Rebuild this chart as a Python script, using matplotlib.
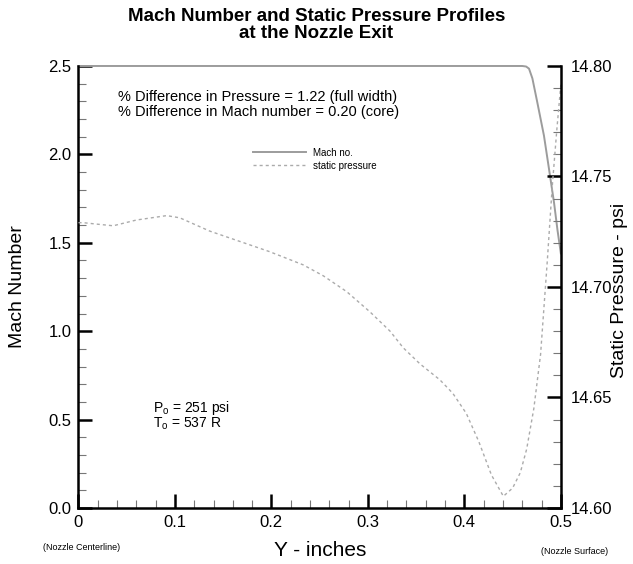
import matplotlib
matplotlib.use("Agg")
import matplotlib.pyplot as plt
from matplotlib.ticker import MultipleLocator, FuncFormatter

plt.rcParams['font.family'] = ['Liberation Sans', 'DejaVu Sans']

# Mach number profile (solid)
mach_y = [0.0, 0.10, 0.20, 0.30, 0.40, 0.460, 0.464, 0.467, 0.4705, 0.4755, 0.4825, 0.4878, 0.493, 0.4965, 0.5]
mach = [2.5, 2.5, 2.5, 2.5, 2.5, 2.5, 2.497, 2.485, 2.43, 2.297, 2.106, 1.915, 1.725, 1.573, 1.44]

# static pressure profile (dashed)
pres_y = [0.0, 0.005, 0.020, 0.036, 0.060, 0.0914, 0.105, 0.136, 0.164, 0.198, 0.233, 0.254,
          0.278, 0.302, 0.323, 0.3366, 0.354, 0.3746, 0.388, 0.402, 0.415, 0.428, 0.4404,
          0.450, 0.458, 0.4646, 0.472, 0.479, 0.486, 0.491, 0.496, 0.5]
pres = [14.7291, 14.7291, 14.7284, 14.7277, 14.7303, 14.7323, 14.7313, 14.7253, 14.7211, 14.716,
        14.710, 14.705, 14.6979, 14.6888, 14.6800, 14.6725, 14.6652, 14.6580, 14.6519, 14.6428,
        14.630, 14.615, 14.6053, 14.609, 14.616, 14.6267, 14.645, 14.6695, 14.712, 14.745,
        14.772, 14.7916]

fig = plt.figure(figsize=(6.33, 5.64), dpi=100)
ax = fig.add_axes([0.124, 0.0993, 0.762, 0.7837])
ax2 = ax.twinx()

l1, = ax.plot(mach_y, mach, color='#9c9c9c', lw=1.4, clip_on=False, label='Mach no.')
l2, = ax2.plot(pres_y, pres, color='#ababab', lw=1.0, dashes=(2.2, 2.2), label='static pressure')

ax.set_xlim(0, 0.5)
ax.set_ylim(0, 2.5)
ax2.set_ylim(14.6, 14.8)

for a in (ax, ax2):
    a.spines['top'].set_visible(False)
    for s in ('left', 'right', 'bottom'):
        a.spines[s].set_linewidth(1.8)

ax.spines['right'].set_visible(False)
ax2.spines['left'].set_visible(False)
ax2.spines['bottom'].set_visible(False)

ax.xaxis.set_major_locator(MultipleLocator(0.1))
ax.xaxis.set_minor_locator(MultipleLocator(0.02))
ax.yaxis.set_major_locator(MultipleLocator(0.5))
ax.yaxis.set_minor_locator(MultipleLocator(0.1))
ax2.yaxis.set_major_locator(MultipleLocator(0.05))
ax2.yaxis.set_minor_locator(MultipleLocator(0.01))

ax.xaxis.set_major_formatter(FuncFormatter(lambda v, p: '0' if abs(v) < 1e-9 else '%.1f' % v))
ax.yaxis.set_major_formatter(FuncFormatter(lambda v, p: '%.1f' % v))
ax2.yaxis.set_major_formatter(FuncFormatter(lambda v, p: '%.2f' % v))

ax.tick_params(axis='both', which='major', direction='in', length=10, width=1.8, labelsize=12)
ax.tick_params(axis='both', which='minor', direction='in', length=6, width=0.8, color='#777777')
ax.tick_params(axis='x', which='major', pad=5)
ax.tick_params(axis='y', which='major', pad=5)
ax.tick_params(top=False, right=False, which='both')
ax2.tick_params(axis='y', which='major', direction='in', length=10, width=1.8, labelsize=12, pad=7)
ax2.tick_params(axis='y', which='minor', direction='in', length=6, width=0.8, color='#777777')

fig.text(0.5, 1 - 8 / 564, 'Mach Number and Static Pressure Profiles\nat the Nozzle Exit',
         ha='center', va='top', fontsize=13.5, fontweight='bold', linespacing=1.0)

fig.text(18 / 633, 1 - 287 / 564, 'Mach Number', rotation=90, ha='center', va='center', fontsize=14)
fig.text(620 / 633, 1 - 290 / 564, 'Static Pressure - psi', rotation=90, ha='center', va='center', fontsize=14)
fig.text(320 / 633, 1 - 550 / 564, 'Y - inches', ha='center', va='center', fontsize=15)
fig.text(82 / 633, 1 - 547 / 564, '(Nozzle Centerline)', ha='center', va='center', fontsize=6.5)
fig.text(575 / 633, 1 - 551 / 564, '(Nozzle Surface)', ha='center', va='center', fontsize=6.5)

ax.text(0.041, 2.325, '% Difference in Pressure = 1.22 (full width)', ha='left', va='center', fontsize=10.5)
ax.text(0.041, 2.24, '% Difference in Mach number = 0.20 (core)', ha='left', va='center', fontsize=10.5)

ax.text(0.077, 0.565, r'P$_\mathregular{o}$ = 251 psi', ha='left', va='center', fontsize=10)
ax.text(0.077, 0.475, r'T$_\mathregular{o}$ = 537 R', ha='left', va='center', fontsize=10)

ax.legend(handles=[l1, l2], loc='upper left', bbox_to_anchor=(0.362, 0.815), frameon=False,
          fontsize=7, handlelength=5.4, handletextpad=0.8, borderpad=0, borderaxespad=0,
          labelspacing=0.3)

fig.savefig('out.png', dpi=100)
